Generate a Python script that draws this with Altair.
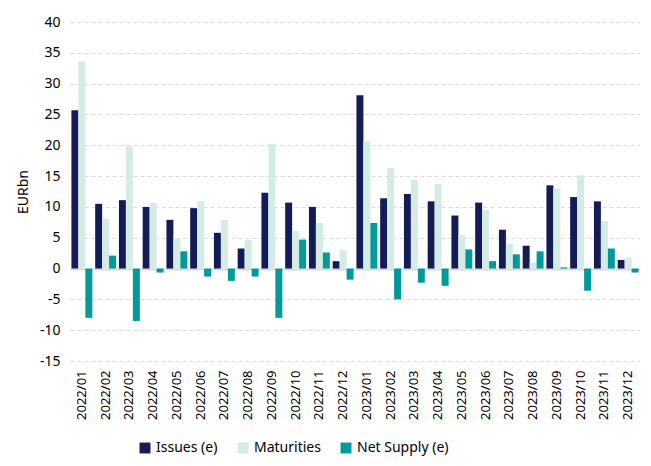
import altair as alt
import pandas as pd

months = ["2022/01","2022/02","2022/03","2022/04","2022/05","2022/06","2022/07","2022/08",
          "2022/09","2022/10","2022/11","2022/12","2023/01","2023/02","2023/03","2023/04",
          "2023/05","2023/06","2023/07","2023/08","2023/09","2023/10","2023/11","2023/12"]
issues = [25.7,10.5,11.1,10.0,7.9,9.8,5.8,3.25,12.3,10.7,10.0,1.2,
          28.1,11.4,12.1,10.9,8.6,10.7,6.3,3.7,13.5,11.6,10.9,1.4]
maturities = [33.6,8.1,19.8,10.7,4.9,10.9,7.9,4.6,20.2,6.1,7.4,3.0,
              20.65,16.3,14.4,13.7,5.4,9.5,4.0,1.0,13.0,15.1,7.7,1.8]
net_supply = [-8.0,2.1,-8.5,-0.65,2.8,-1.3,-2.0,-1.3,-8.0,4.7,2.6,-1.8,
              7.4,-5.0,-2.3,-2.8,3.1,1.2,2.3,2.8,0.2,-3.6,3.25,-0.65]
series = ["Issues (e)", "Maturities", "Net Supply (e)"]
colors = ["#131c54", "#d4ebe6", "#009a9a"]
y_ticks = [-15, -10, -5, 0, 5, 10, 15, 20, 25, 30, 35, 40]

rows = []
for i, m in enumerate(months):
    for s, vals in zip(series, [issues, maturities, net_supply]):
        rows.append({"month": m, "series": s, "value": vals[i]})
df = pd.DataFrame(rows)

font = "Noto Sans"

chart = alt.Chart(df).mark_bar().encode(
    x=alt.X("month:N", sort=months, title=None,
            scale=alt.Scale(paddingInner=0.12, paddingOuter=0.06),
            axis=alt.Axis(labelAngle=-90, labelFontSize=13, labelColor="#000000",
                          labelFont=font, domain=False, ticks=False, labelPadding=9,
                          labelBaseline="middle", labelAlign="right", labelOverlap=False)),
    xOffset=alt.XOffset("series:N", sort=series),
    y=alt.Y("value:Q", title="EURbn",
            scale=alt.Scale(domain=[-15, 40], nice=False),
            axis=alt.Axis(values=y_ticks, labelExpr="'' + datum.value",
                          labelFontSize=14, labelColor="#000000",
                          labelFont=font, titleFont=font, titleFontSize=14, titleFontWeight="normal",
                          titleColor="#000000", domain=False, ticks=False, labelPadding=10,
                          labelOverlap=False,
                          grid=True, gridColor="#d9d9d9",
                          gridDash={"condition": {"test": "datum.value === 0", "value": []},
                                    "value": [4, 3]},
                          gridWidth={"condition": {"test": "datum.value === 0", "value": 2},
                                     "value": 1},
                          titlePadding=9)),
    color=alt.Color("series:N", sort=series,
                    scale=alt.Scale(domain=series, range=colors),
                    legend=alt.Legend(title=None, orient="none", direction="horizontal",
                                      legendX=68, legendY=419, symbolType="square",
                                      symbolSize=120, symbolStrokeWidth=0,
                                      labelFont=font, labelFontSize=14, labelColor="#000000",
                                      columnPadding=18, labelOffset=4)),
).properties(
    width=570, height=339,
    autosize=alt.AutoSizeParams(type="none"),
    padding={"left": 62, "top": 14, "right": 0, "bottom": 97},
).configure_view(stroke=None)

chart.save("out.html", embed_options={"renderer": "svg", "actions": False})
